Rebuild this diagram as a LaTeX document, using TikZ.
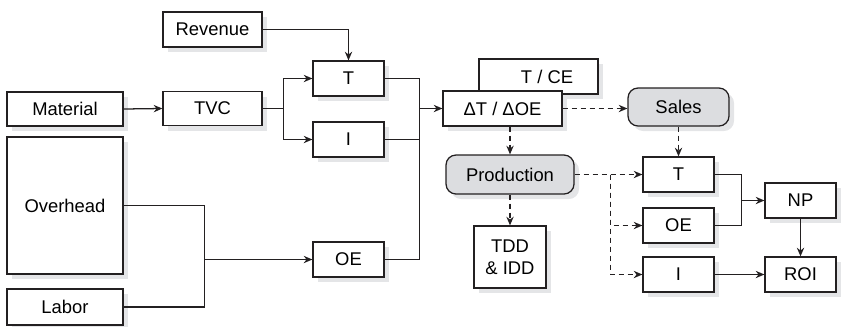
\documentclass[tikz,border=0pt]{standalone}
\usepackage{fontspec}
\setmainfont{Liberation Sans}
\usepackage{tikz}
\usetikzlibrary{
	positioning,
	arrows.meta,
	shadows
}
\definecolor{LineGray}{RGB}{35,32,33}
\definecolor{FillGray}{RGB}{220,221,224}
\definecolor{ShadowGray}{RGB}{228,229,231}
\newlength{\px}
\setlength{\px}{0.75pt}
\tikzset{
	box/.style={
		draw=LineGray,
		fill=white,
		line width=0.95pt,
		inner sep=0pt,
		minimum width=71\px,
		minimum height=35\px,
		font=\fontsize{13.8}{16.8}\selectfont,
		drop shadow={shadow xshift=3.75pt, shadow yshift=-3.75pt, fill=ShadowGray, opacity=1}
	},
	roundbox/.style={
		box,
		fill=FillGray,
		rounded corners=7.5pt
	},
	wire/.style={
		line width=0.95pt,
		LineGray
	},
	link/.style={
		wire,
		-{Stealth[length=6.5pt,width=5.5pt]}
	},
	flow/.style={
		link,
		dash pattern=on 3.75pt off 3pt
	}
}

\begin{document}
\begin{tikzpicture}[x=\px, y=-\px]
	
	\useasboundingbox (0,0) rectangle (841,326);
	
	\node[box, minimum width=99\px] (Revenue) at (212.5,29.5) {Revenue};
	\node[box] (T1) at (348.5,78.5) {T};
	\node[box, minimum width=116\px, minimum height=34\px] (Material) at (65,109) {Material};
	\node[box, minimum width=99\px, minimum height=34\px] (TVC) at (212.5,108.5) {TVC};
	\node[box] (I1) at (348.5,139.5) {I};
	\node[box, minimum width=116\px, minimum height=137\px] (Overhead) at (65,205.5) {Overhead};
	\node[box, minimum width=116\px, minimum height=36\px] (Labor) at (65,307) {Labor};
	\node[box] (OE1) at (348.5,259.5) {OE};
	
	\node[box, minimum width=119\px] (TCE) at (538.5,76.5) {\hspace*{17\px}T / CE};
	\node[box, minimum width=119\px] (DTOE) at (502.5,108.5) {ΔT /\ ΔOE};
	\node[roundbox, minimum width=101\px, minimum height=38\px] (Sales) at (678.5,107) {Sales};
	\node[roundbox, minimum width=128\px, minimum height=39\px] (Production) at (510,174.5) {Production};
	\node[box, minimum width=72\px, minimum height=62\px, align=center] (TDD) at (510,257) {TDD\\\& IDD};
	
	\node[box] (T2) at (678.5,174.5) {T};
	\node[box] (OE2) at (678.5,225.5) {OE};
	\node[box] (I2) at (678.5,274.5) {I};
	\node[box] (NP) at (800.5,200.5) {NP};
	\node[box] (ROI) at (800.5,274.5) {ROI};
	
	\coordinate (tvcsplit) at (283.5,108.5);
	\coordinate (oejoin) at (204.5,259.5);
	\coordinate (tjoin) at (419.5,108.5);
	\coordinate (prodsplit) at (610.5,174.5);
	\coordinate (npjoin) at (741.5,200.5);
	
	\draw[link] (Material.east) -- (TVC.west);
	\draw[link] (Revenue.east) -| (T1.north);
	\draw[wire] (TVC.east) -- (tvcsplit);
	\draw[link] (tvcsplit) |- (T1.west);
	\draw[link] (tvcsplit) |- (I1.west);
	
	\draw[wire] (Overhead.east) -| (oejoin);
	\draw[wire] (Labor.east) -| (oejoin);
	\draw[link] (oejoin) -- (OE1.west);
	
	\draw[wire] (T1.east) -| (tjoin);
	\draw[wire] (OE1.east) -| (tjoin);
	\draw[wire] (I1.east) -- (I1.east -| tjoin);
	\draw[link] (tjoin) -- (DTOE.west);
	
	\draw[flow] (DTOE.east) -- (Sales.west |- DTOE.east);
	\draw[flow] (DTOE.south -| Production.north) -- (Production.north);
	\draw[flow] (Sales.south) -- (T2.north);
	\draw[flow] (Production.south) -- (TDD.north);
	
	\draw[flow] (Production.east) -- (T2.west |- Production.east);
	\draw[flow] (prodsplit) |- (OE2.west);
	\draw[flow] (prodsplit) |- (I2.west);
	
	\draw[wire] (T2.east) -| (npjoin);
	\draw[wire] (OE2.east) -| (npjoin);
	\draw[link] (npjoin) -- (NP.west);
	\draw[link] (NP.south) -- (ROI.north);
	\draw[link] (I2.east) -- (ROI.west);
	
\end{tikzpicture}
\end{document}
